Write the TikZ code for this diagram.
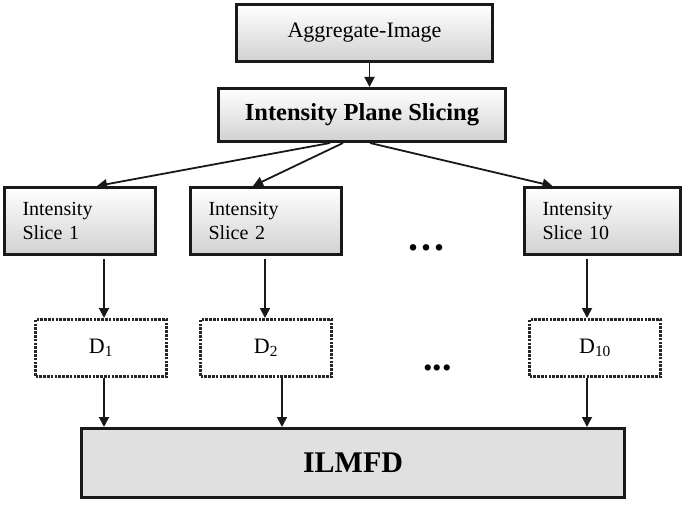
\documentclass[tikz,border=0pt]{standalone}
\usepackage{fontspec}
\setmainfont{Liberation Serif}
\usetikzlibrary{arrows.meta}
\begin{document}
\begin{tikzpicture}[x=1pt,y=1pt,
  gbox/.style={draw=black!90, line width=3pt, top color=white, bottom color=black!18, inner sep=0pt, font=\fontsize{22}{26}\selectfont},
  slicebox/.style={gbox, minimum height=67pt, inner xsep=18pt, align=left, font=\fontsize{20}{24}\selectfont},
  dbox/.style={draw=black!85, line width=3pt, dash pattern=on 2.6pt off 1.2pt, fill=white, minimum width=131pt, minimum height=57pt, inner sep=0pt, font=\fontsize{22}{26}\selectfont},
  arr/.style={draw=black!90, line width=1.8pt, -{Triangle[length=10pt,width=10pt]}}
]
\useasboundingbox (0,0) rectangle (685,504);
\node[gbox, minimum width=256pt, minimum height=57pt] (agg) at (364.5,471) {Aggregate-Image};
\node[gbox, minimum width=287pt, minimum height=53pt, font=\fontsize{24.5}{28}\selectfont\bfseries] (ips) at (362,389) {Intensity Plane Slicing};
\node[slicebox, text width=115pt] (s1) at (80,283) {Intensity\\Slice 1};
\node[slicebox, text width=115pt] (s2) at (266,283) {Intensity\\Slice 2};
\node[slicebox, text width=120pt] (s10) at (602.5,283) {Intensity\\Slice 10};
\node[font=\fontsize{40}{40}\selectfont\bfseries, inner sep=0pt] (dots1) at (426.5,256) {.\kern3pt.\kern3pt.};
\node[dbox] (d1) at (101,156) {D\textsubscript{1}};
\node[dbox] (d2) at (266,156) {D\textsubscript{2}};
\node[dbox] (d10) at (595,156) {D\textsubscript{10}};
\node[font=\fontsize{38}{38}\selectfont\bfseries, inner sep=0pt] (dots2) at (437.5,136) {...};
\node[draw=black!90, line width=3pt, fill=black!12, minimum width=543pt, minimum height=69pt, inner sep=0pt, font=\fontsize{30}{34}\selectfont\bfseries] (ilmfd) at (353,41) {ILMFD};
\draw[arr] ([xshift=5pt]agg.south) -- ([xshift=5pt]agg.south |- ips.north);
\draw[arr] ([xshift=-32pt]ips.south) -- ([xshift=17pt]s1.north);
\draw[arr] ([xshift=-19pt]ips.south) -- ([xshift=-13pt]s2.north);
\draw[arr] ([xshift=8pt]ips.south) -- ([xshift=-50pt]s10.north);
\draw[arr] ([xshift=3pt,yshift=-3pt]d1.north |- s1.south) -- ([xshift=3pt]d1.north);
\draw[arr] ([xshift=-1pt,yshift=-3pt]d2.north |- s2.south) -- ([xshift=-1pt]d2.north);
\draw[arr] ([xshift=-8pt,yshift=-3pt]d10.north |- s10.south) -- ([xshift=-8pt]d10.north);
\draw[arr] ([xshift=3pt]d1.south) -- ([xshift=3pt]d1.south |- ilmfd.north);
\draw[arr] ([xshift=16pt]d2.south) -- ([xshift=16pt]d2.south |- ilmfd.north);
\draw[arr] ([xshift=-8pt]d10.south) -- ([xshift=-8pt]d10.south |- ilmfd.north);
\end{tikzpicture}
\end{document}
